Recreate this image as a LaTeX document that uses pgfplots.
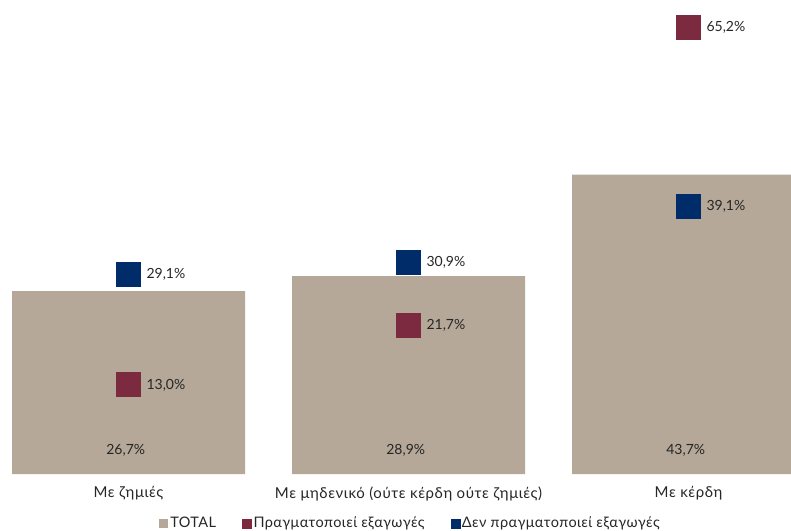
\documentclass[border=0pt]{standalone}
\usepackage{pgfplots}
\pgfplotsset{compat=1.18}
\usepackage{fontspec}
\setmainfont{Lato}
\newfontfamily\widefont[LetterSpace=4]{Lato}
\newfontfamily\legfont[LetterSpace=3]{Lato}
\definecolor{taupe}{RGB}{181,168,152}
\definecolor{maroon}{RGB}{123,42,63}
\definecolor{navy}{RGB}{0,45,106}
\definecolor{txt}{RGB}{38,38,38}
\begin{document}
\begin{tikzpicture}[x=1pt,y=1pt]
\useasboundingbox (0,-56) rectangle (791,474);
\begin{axis}[
  at={(0,0)}, anchor=south west,
  scale only axis, width=791pt, height=474pt,
  xmin=-0.459, xmax=2.366, ymin=0, ymax=69.2,
  axis line style={draw=none},
  major tick length=0pt,
  ytick=\empty,
  xtick={0,1,2},
  xticklabels={Με ζημιές, Με μηδενικό (ούτε κέρδη ούτε ζημιές), Με κέρδη},
  xticklabel style={font=\widefont\fontsize{15}{17}\selectfont, text=txt, yshift=-9pt},
  /pgf/number format/assume math mode=true,
  legend style={at={(0.519,-0.104)}, anchor=center, draw=none, fill=none,
    legend columns=3, font=\legfont\fontsize{14.5}{17}\selectfont, text=txt,
    /tikz/every even column/.append style={column sep=24pt}},
  legend cell align=left,
]
\addplot[ybar, bar width=233pt, fill=taupe, draw=none,
  legend image code/.code={\fill[taupe] (0pt,-5pt) rectangle (9pt,4pt);}]
  coordinates {(0,26.7) (1,28.9) (2,43.7)};
\addlegendentry{TOTAL}
\addplot[only marks, mark=square*, mark size=12pt, color=maroon, mark options={fill=maroon, draw=maroon, line width=0pt},
  nodes near coords={\pgfmathprintnumber[fixed,fixed zerofill,precision=1,use comma]{\pgfplotspointmeta}\%},
  nodes near coords style={anchor=west, inner sep=0pt, xshift=18pt, text=txt, font=\fontsize{14}{16}\selectfont},
  legend image code/.code={\fill[maroon] (0pt,-5pt) rectangle (9pt,4pt);}]
  coordinates {(0,13.0) (1,21.7) (2,65.2)};
\addlegendentry{Πραγματοποιεί εξαγωγές}
\addplot[only marks, mark=square*, mark size=12pt, color=navy, mark options={fill=navy, draw=navy, line width=0pt},
  nodes near coords={\pgfmathprintnumber[fixed,fixed zerofill,precision=1,use comma]{\pgfplotspointmeta}\%},
  nodes near coords style={anchor=west, inner sep=0pt, xshift=18pt, text=txt, font=\fontsize{14}{16}\selectfont},
  legend image code/.code={\fill[navy] (0pt,-5pt) rectangle (9pt,4pt);}]
  coordinates {(0,29.1) (1,30.9) (2,39.1)};
\addlegendentry{Δεν πραγματοποιεί εξαγωγές}
\addplot[only marks, mark=none, point meta=explicit,
  nodes near coords={\pgfmathprintnumber[fixed,fixed zerofill,precision=1,use comma]{\pgfplotspointmeta}\%},
  nodes near coords style={anchor=center, inner sep=0pt, text=txt, font=\fontsize{14}{16}\selectfont},
  forget plot]
  coordinates {(-0.01,3.5) [26.7] (0.99,3.5) [28.9] (1.99,3.5) [43.7]};
\end{axis}
\end{tikzpicture}
\end{document}
